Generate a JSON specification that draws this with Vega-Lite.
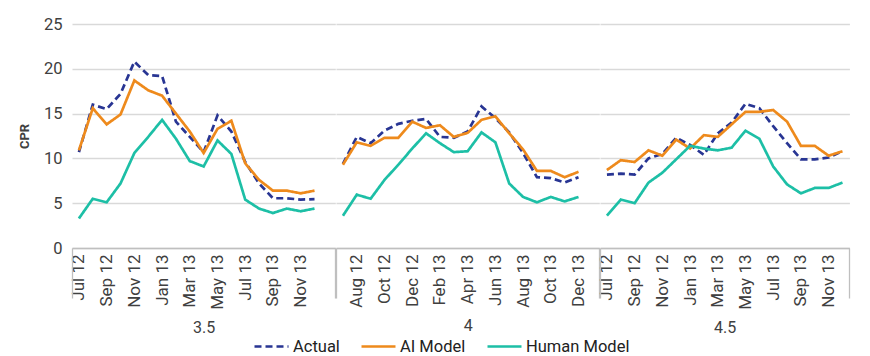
{
  "$schema": "https://vega.github.io/schema/vega-lite/v6.json",
  "padding": {"left": 18, "top": 16, "right": 10, "bottom": 0},
  "bounds": "flush",
  "spacing": 0,
  "config": {
    "font": "Roboto",
    "view": {"stroke": null},
    "axis": {"labelFont": "Roboto", "titleFont": "Roboto", "labelColor": "#404040", "titleColor": "#404040"},
    "legend": {"labelFont": "Roboto"}
  },
  "datasets": {
    "cpr": [
      {"rate":"3.5","series":"Actual","idx":0,"month":"Jul 12","cpr":10.7},
      {"rate":"3.5","series":"Actual","idx":1,"month":"Aug 12","cpr":16.0},
      {"rate":"3.5","series":"Actual","idx":2,"month":"Sep 12","cpr":15.5},
      {"rate":"3.5","series":"Actual","idx":3,"month":"Oct 12","cpr":17.2},
      {"rate":"3.5","series":"Actual","idx":4,"month":"Nov 12","cpr":20.8},
      {"rate":"3.5","series":"Actual","idx":5,"month":"Dec 12","cpr":19.3},
      {"rate":"3.5","series":"Actual","idx":6,"month":"Jan 13","cpr":19.2},
      {"rate":"3.5","series":"Actual","idx":7,"month":"Feb 13","cpr":14.1},
      {"rate":"3.5","series":"Actual","idx":8,"month":"Mar 13","cpr":12.4},
      {"rate":"3.5","series":"Actual","idx":9,"month":"Apr 13","cpr":10.7},
      {"rate":"3.5","series":"Actual","idx":10,"month":"May 13","cpr":14.8},
      {"rate":"3.5","series":"Actual","idx":11,"month":"Jun 13","cpr":13.0},
      {"rate":"3.5","series":"Actual","idx":12,"month":"Jul 13","cpr":9.6},
      {"rate":"3.5","series":"Actual","idx":13,"month":"Aug 13","cpr":7.2},
      {"rate":"3.5","series":"Actual","idx":14,"month":"Sep 13","cpr":5.55},
      {"rate":"3.5","series":"Actual","idx":15,"month":"Oct 13","cpr":5.55},
      {"rate":"3.5","series":"Actual","idx":16,"month":"Nov 13","cpr":5.4},
      {"rate":"3.5","series":"Actual","idx":17,"month":"Dec 13","cpr":5.45},
      {"rate":"3.5","series":"AI Model","idx":0,"month":"Jul 12","cpr":10.9},
      {"rate":"3.5","series":"AI Model","idx":1,"month":"Aug 12","cpr":15.6},
      {"rate":"3.5","series":"AI Model","idx":2,"month":"Sep 12","cpr":13.8},
      {"rate":"3.5","series":"AI Model","idx":3,"month":"Oct 12","cpr":14.9},
      {"rate":"3.5","series":"AI Model","idx":4,"month":"Nov 12","cpr":18.7},
      {"rate":"3.5","series":"AI Model","idx":5,"month":"Dec 12","cpr":17.6},
      {"rate":"3.5","series":"AI Model","idx":6,"month":"Jan 13","cpr":17.0},
      {"rate":"3.5","series":"AI Model","idx":7,"month":"Feb 13","cpr":15.0},
      {"rate":"3.5","series":"AI Model","idx":8,"month":"Mar 13","cpr":13.0},
      {"rate":"3.5","series":"AI Model","idx":9,"month":"Apr 13","cpr":10.6},
      {"rate":"3.5","series":"AI Model","idx":10,"month":"May 13","cpr":13.3},
      {"rate":"3.5","series":"AI Model","idx":11,"month":"Jun 13","cpr":14.2},
      {"rate":"3.5","series":"AI Model","idx":12,"month":"Jul 13","cpr":9.45},
      {"rate":"3.5","series":"AI Model","idx":13,"month":"Aug 13","cpr":7.6},
      {"rate":"3.5","series":"AI Model","idx":14,"month":"Sep 13","cpr":6.4},
      {"rate":"3.5","series":"AI Model","idx":15,"month":"Oct 13","cpr":6.4},
      {"rate":"3.5","series":"AI Model","idx":16,"month":"Nov 13","cpr":6.1},
      {"rate":"3.5","series":"AI Model","idx":17,"month":"Dec 13","cpr":6.4},
      {"rate":"3.5","series":"Human Model","idx":0,"month":"Jul 12","cpr":3.3},
      {"rate":"3.5","series":"Human Model","idx":1,"month":"Aug 12","cpr":5.5},
      {"rate":"3.5","series":"Human Model","idx":2,"month":"Sep 12","cpr":5.1},
      {"rate":"3.5","series":"Human Model","idx":3,"month":"Oct 12","cpr":7.2},
      {"rate":"3.5","series":"Human Model","idx":4,"month":"Nov 12","cpr":10.6},
      {"rate":"3.5","series":"Human Model","idx":5,"month":"Dec 12","cpr":12.4},
      {"rate":"3.5","series":"Human Model","idx":6,"month":"Jan 13","cpr":14.3},
      {"rate":"3.5","series":"Human Model","idx":7,"month":"Feb 13","cpr":12.2},
      {"rate":"3.5","series":"Human Model","idx":8,"month":"Mar 13","cpr":9.7},
      {"rate":"3.5","series":"Human Model","idx":9,"month":"Apr 13","cpr":9.1},
      {"rate":"3.5","series":"Human Model","idx":10,"month":"May 13","cpr":12.0},
      {"rate":"3.5","series":"Human Model","idx":11,"month":"Jun 13","cpr":10.5},
      {"rate":"3.5","series":"Human Model","idx":12,"month":"Jul 13","cpr":5.4},
      {"rate":"3.5","series":"Human Model","idx":13,"month":"Aug 13","cpr":4.4},
      {"rate":"3.5","series":"Human Model","idx":14,"month":"Sep 13","cpr":3.9},
      {"rate":"3.5","series":"Human Model","idx":15,"month":"Oct 13","cpr":4.4},
      {"rate":"3.5","series":"Human Model","idx":16,"month":"Nov 13","cpr":4.1},
      {"rate":"3.5","series":"Human Model","idx":17,"month":"Dec 13","cpr":4.4},

      {"rate":"4","series":"Actual","idx":0,"month":"Jul 12","cpr":9.4},
      {"rate":"4","series":"Actual","idx":1,"month":"Aug 12","cpr":12.4},
      {"rate":"4","series":"Actual","idx":2,"month":"Sep 12","cpr":11.7},
      {"rate":"4","series":"Actual","idx":3,"month":"Oct 12","cpr":13.1},
      {"rate":"4","series":"Actual","idx":4,"month":"Nov 12","cpr":13.85},
      {"rate":"4","series":"Actual","idx":5,"month":"Dec 12","cpr":14.2},
      {"rate":"4","series":"Actual","idx":6,"month":"Jan 13","cpr":14.4},
      {"rate":"4","series":"Actual","idx":7,"month":"Feb 13","cpr":12.4},
      {"rate":"4","series":"Actual","idx":8,"month":"Mar 13","cpr":12.3},
      {"rate":"4","series":"Actual","idx":9,"month":"Apr 13","cpr":13.0},
      {"rate":"4","series":"Actual","idx":10,"month":"May 13","cpr":15.8},
      {"rate":"4","series":"Actual","idx":11,"month":"Jun 13","cpr":14.5},
      {"rate":"4","series":"Actual","idx":12,"month":"Jul 13","cpr":12.9},
      {"rate":"4","series":"Actual","idx":13,"month":"Aug 13","cpr":10.6},
      {"rate":"4","series":"Actual","idx":14,"month":"Sep 13","cpr":7.9},
      {"rate":"4","series":"Actual","idx":15,"month":"Oct 13","cpr":7.8},
      {"rate":"4","series":"Actual","idx":16,"month":"Nov 13","cpr":7.3},
      {"rate":"4","series":"Actual","idx":17,"month":"Dec 13","cpr":7.9},
      {"rate":"4","series":"AI Model","idx":0,"month":"Jul 12","cpr":9.3},
      {"rate":"4","series":"AI Model","idx":1,"month":"Aug 12","cpr":11.8},
      {"rate":"4","series":"AI Model","idx":2,"month":"Sep 12","cpr":11.4},
      {"rate":"4","series":"AI Model","idx":3,"month":"Oct 12","cpr":12.3},
      {"rate":"4","series":"AI Model","idx":4,"month":"Nov 12","cpr":12.3},
      {"rate":"4","series":"AI Model","idx":5,"month":"Dec 12","cpr":14.1},
      {"rate":"4","series":"AI Model","idx":6,"month":"Jan 13","cpr":13.4},
      {"rate":"4","series":"AI Model","idx":7,"month":"Feb 13","cpr":13.7},
      {"rate":"4","series":"AI Model","idx":8,"month":"Mar 13","cpr":12.4},
      {"rate":"4","series":"AI Model","idx":9,"month":"Apr 13","cpr":12.85},
      {"rate":"4","series":"AI Model","idx":10,"month":"May 13","cpr":14.3},
      {"rate":"4","series":"AI Model","idx":11,"month":"Jun 13","cpr":14.7},
      {"rate":"4","series":"AI Model","idx":12,"month":"Jul 13","cpr":12.8},
      {"rate":"4","series":"AI Model","idx":13,"month":"Aug 13","cpr":11.0},
      {"rate":"4","series":"AI Model","idx":14,"month":"Sep 13","cpr":8.6},
      {"rate":"4","series":"AI Model","idx":15,"month":"Oct 13","cpr":8.6},
      {"rate":"4","series":"AI Model","idx":16,"month":"Nov 13","cpr":7.9},
      {"rate":"4","series":"AI Model","idx":17,"month":"Dec 13","cpr":8.5},
      {"rate":"4","series":"Human Model","idx":0,"month":"Jul 12","cpr":3.6},
      {"rate":"4","series":"Human Model","idx":1,"month":"Aug 12","cpr":5.95},
      {"rate":"4","series":"Human Model","idx":2,"month":"Sep 12","cpr":5.5},
      {"rate":"4","series":"Human Model","idx":3,"month":"Oct 12","cpr":7.6},
      {"rate":"4","series":"Human Model","idx":4,"month":"Nov 12","cpr":9.3},
      {"rate":"4","series":"Human Model","idx":5,"month":"Dec 12","cpr":11.1},
      {"rate":"4","series":"Human Model","idx":6,"month":"Jan 13","cpr":12.8},
      {"rate":"4","series":"Human Model","idx":7,"month":"Feb 13","cpr":11.7},
      {"rate":"4","series":"Human Model","idx":8,"month":"Mar 13","cpr":10.7},
      {"rate":"4","series":"Human Model","idx":9,"month":"Apr 13","cpr":10.8},
      {"rate":"4","series":"Human Model","idx":10,"month":"May 13","cpr":12.9},
      {"rate":"4","series":"Human Model","idx":11,"month":"Jun 13","cpr":11.8},
      {"rate":"4","series":"Human Model","idx":12,"month":"Jul 13","cpr":7.2},
      {"rate":"4","series":"Human Model","idx":13,"month":"Aug 13","cpr":5.7},
      {"rate":"4","series":"Human Model","idx":14,"month":"Sep 13","cpr":5.1},
      {"rate":"4","series":"Human Model","idx":15,"month":"Oct 13","cpr":5.7},
      {"rate":"4","series":"Human Model","idx":16,"month":"Nov 13","cpr":5.2},
      {"rate":"4","series":"Human Model","idx":17,"month":"Dec 13","cpr":5.7},

      {"rate":"4.5","series":"Actual","idx":0,"month":"Jul 12","cpr":8.2},
      {"rate":"4.5","series":"Actual","idx":1,"month":"Aug 12","cpr":8.3},
      {"rate":"4.5","series":"Actual","idx":2,"month":"Sep 12","cpr":8.2},
      {"rate":"4.5","series":"Actual","idx":3,"month":"Oct 12","cpr":10.0},
      {"rate":"4.5","series":"Actual","idx":4,"month":"Nov 12","cpr":10.5},
      {"rate":"4.5","series":"Actual","idx":5,"month":"Dec 12","cpr":12.3},
      {"rate":"4.5","series":"Actual","idx":6,"month":"Jan 13","cpr":11.5},
      {"rate":"4.5","series":"Actual","idx":7,"month":"Feb 13","cpr":10.4},
      {"rate":"4.5","series":"Actual","idx":8,"month":"Mar 13","cpr":12.8},
      {"rate":"4.5","series":"Actual","idx":9,"month":"Apr 13","cpr":14.0},
      {"rate":"4.5","series":"Actual","idx":10,"month":"May 13","cpr":16.1},
      {"rate":"4.5","series":"Actual","idx":11,"month":"Jun 13","cpr":15.6},
      {"rate":"4.5","series":"Actual","idx":12,"month":"Jul 13","cpr":13.6},
      {"rate":"4.5","series":"Actual","idx":13,"month":"Aug 13","cpr":11.7},
      {"rate":"4.5","series":"Actual","idx":14,"month":"Sep 13","cpr":9.9},
      {"rate":"4.5","series":"Actual","idx":15,"month":"Oct 13","cpr":9.9},
      {"rate":"4.5","series":"Actual","idx":16,"month":"Nov 13","cpr":10.1},
      {"rate":"4.5","series":"Actual","idx":17,"month":"Dec 13","cpr":10.8},
      {"rate":"4.5","series":"AI Model","idx":0,"month":"Jul 12","cpr":8.7},
      {"rate":"4.5","series":"AI Model","idx":1,"month":"Aug 12","cpr":9.8},
      {"rate":"4.5","series":"AI Model","idx":2,"month":"Sep 12","cpr":9.6},
      {"rate":"4.5","series":"AI Model","idx":3,"month":"Oct 12","cpr":10.9},
      {"rate":"4.5","series":"AI Model","idx":4,"month":"Nov 12","cpr":10.3},
      {"rate":"4.5","series":"AI Model","idx":5,"month":"Dec 12","cpr":12.1},
      {"rate":"4.5","series":"AI Model","idx":6,"month":"Jan 13","cpr":11.1},
      {"rate":"4.5","series":"AI Model","idx":7,"month":"Feb 13","cpr":12.6},
      {"rate":"4.5","series":"AI Model","idx":8,"month":"Mar 13","cpr":12.4},
      {"rate":"4.5","series":"AI Model","idx":9,"month":"Apr 13","cpr":13.8},
      {"rate":"4.5","series":"AI Model","idx":10,"month":"May 13","cpr":15.2},
      {"rate":"4.5","series":"AI Model","idx":11,"month":"Jun 13","cpr":15.2},
      {"rate":"4.5","series":"AI Model","idx":12,"month":"Jul 13","cpr":15.4},
      {"rate":"4.5","series":"AI Model","idx":13,"month":"Aug 13","cpr":14.1},
      {"rate":"4.5","series":"AI Model","idx":14,"month":"Sep 13","cpr":11.4},
      {"rate":"4.5","series":"AI Model","idx":15,"month":"Oct 13","cpr":11.4},
      {"rate":"4.5","series":"AI Model","idx":16,"month":"Nov 13","cpr":10.3},
      {"rate":"4.5","series":"AI Model","idx":17,"month":"Dec 13","cpr":10.8},
      {"rate":"4.5","series":"Human Model","idx":0,"month":"Jul 12","cpr":3.6},
      {"rate":"4.5","series":"Human Model","idx":1,"month":"Aug 12","cpr":5.4},
      {"rate":"4.5","series":"Human Model","idx":2,"month":"Sep 12","cpr":5.0},
      {"rate":"4.5","series":"Human Model","idx":3,"month":"Oct 12","cpr":7.3},
      {"rate":"4.5","series":"Human Model","idx":4,"month":"Nov 12","cpr":8.4},
      {"rate":"4.5","series":"Human Model","idx":5,"month":"Dec 12","cpr":9.9},
      {"rate":"4.5","series":"Human Model","idx":6,"month":"Jan 13","cpr":11.4},
      {"rate":"4.5","series":"Human Model","idx":7,"month":"Feb 13","cpr":11.1},
      {"rate":"4.5","series":"Human Model","idx":8,"month":"Mar 13","cpr":10.9},
      {"rate":"4.5","series":"Human Model","idx":9,"month":"Apr 13","cpr":11.2},
      {"rate":"4.5","series":"Human Model","idx":10,"month":"May 13","cpr":13.1},
      {"rate":"4.5","series":"Human Model","idx":11,"month":"Jun 13","cpr":12.2},
      {"rate":"4.5","series":"Human Model","idx":12,"month":"Jul 13","cpr":9.1},
      {"rate":"4.5","series":"Human Model","idx":13,"month":"Aug 13","cpr":7.1},
      {"rate":"4.5","series":"Human Model","idx":14,"month":"Sep 13","cpr":6.1},
      {"rate":"4.5","series":"Human Model","idx":15,"month":"Oct 13","cpr":6.7},
      {"rate":"4.5","series":"Human Model","idx":16,"month":"Nov 13","cpr":6.7},
      {"rate":"4.5","series":"Human Model","idx":17,"month":"Dec 13","cpr":7.3}
    ]
  },
  "data": {"name": "cpr"},
  "resolve": {"scale": {"color": "shared", "strokeDash": "shared"}, "legend": {"color": "shared", "strokeDash": "shared"}},
  "hconcat": [
    {
      "width": 263.3, "height": 224,
      "transform": [{"filter": "datum.rate === '3.5'"}],
      "resolve": {"axis": {"x": "independent"}},
      "layer": [
        {
          "mark": {"type": "line", "strokeWidth": 2.7},
          "encoding": {
            "x": {"field": "idx", "type": "quantitative",
              "scale": {"domain": [-0.5, 18.5], "nice": false, "zero": false},
              "axis": {"orient": "bottom", "values": [0,2,4,6,8,10,12,14,16],
                "labelExpr": "['Jul 12','Aug 12','Sep 12','Oct 12','Nov 12','Dec 12','Jan 13','Feb 13','Mar 13','Apr 13','May 13','Jun 13','Jul 13','Aug 13','Sep 13','Oct 13','Nov 13','Dec 13'][datum.value]",
                "labelAngle": -90, "labelFontSize": 17, "labelPadding": 6, "ticks": false, "grid": false,
                "domainColor": "#bfbfbf", "domainWidth": 1.3, "title": "3.5", "titleFontSize": 16, "titleFontWeight": "normal", "titlePadding": 10}},
            "y": {"field": "cpr", "type": "quantitative",
              "scale": {"domain": [0, 25], "nice": false},
              "axis": {"values": [0,5,10,15,20,25], "title": "CPR", "titleFontWeight": "bold", "titleFontSize": 13,
                "labelFontSize": 16.5, "ticks": false, "domain": false, "gridColor": "#d9d9d9", "gridWidth": 1.3,
                "labelPadding": 10, "titlePadding": 12}},
            "color": {"field": "series", "type": "nominal",
              "scale": {"domain": ["Actual", "AI Model", "Human Model"], "range": ["#283593", "#EE8A1C", "#1DBFA6"]},
              "legend": {"orient": "none", "legendX": 181, "legendY": 304, "direction": "horizontal", "title": null,
                "symbolType": "stroke", "symbolSize": 1156, "symbolStrokeWidth": 2.7, "labelFontSize": 16.5,
                "labelOffset": 3, "columnPadding": 16, "labelColor": "#222222"}},
            "strokeDash": {"field": "series", "type": "nominal",
              "scale": {"domain": ["Actual", "AI Model", "Human Model"], "range": [[7, 4], [1, 0], [1, 0]]},
              "legend": {"orient": "none", "legendX": 181, "legendY": 304, "direction": "horizontal", "title": null,
                "symbolType": "stroke", "symbolSize": 1156, "symbolStrokeWidth": 2.7, "labelFontSize": 16.5,
                "labelOffset": 3, "columnPadding": 16, "labelColor": "#222222"}}
          }
        },
        {
          "mark": {"type": "rule", "opacity": 0},
          "encoding": {
            "x": {"field": "idx", "type": "quantitative",
              "axis": {"orient": "bottom", "values": [-0.5, 18.5], "labels": false, "domain": false, "grid": false,
                "ticks": true, "tickSize": 50, "tickColor": "#bfbfbf", "tickWidth": 1.3, "title": null}}
          }
        }
      ]
    },
    {
      "width": 263.3, "height": 224,
      "transform": [{"filter": "datum.rate === '4'"}],
      "resolve": {"axis": {"x": "independent"}},
      "layer": [
        {
          "mark": {"type": "line", "strokeWidth": 2.7},
          "encoding": {
            "x": {"field": "idx", "type": "quantitative",
              "scale": {"domain": [-0.5, 18.5], "nice": false, "zero": false},
              "axis": {"orient": "bottom", "values": [1,3,5,7,9,11,13,15,17],
                "labelExpr": "['Jul 12','Aug 12','Sep 12','Oct 12','Nov 12','Dec 12','Jan 13','Feb 13','Mar 13','Apr 13','May 13','Jun 13','Jul 13','Aug 13','Sep 13','Oct 13','Nov 13','Dec 13'][datum.value]",
                "labelAngle": -90, "labelFontSize": 17, "labelPadding": 6, "ticks": false, "grid": false,
                "domainColor": "#bfbfbf", "domainWidth": 1.3, "title": "4", "titleFontSize": 16, "titleFontWeight": "normal", "titlePadding": 10}},
            "y": {"field": "cpr", "type": "quantitative",
              "scale": {"domain": [0, 25], "nice": false},
              "axis": {"values": [0,5,10,15,20,25], "title": null, "labels": false, "ticks": false, "domain": false,
                "gridColor": "#d9d9d9", "gridWidth": 1.3}},
            "color": {"field": "series", "type": "nominal",
              "scale": {"domain": ["Actual", "AI Model", "Human Model"], "range": ["#283593", "#EE8A1C", "#1DBFA6"]}},
            "strokeDash": {"field": "series", "type": "nominal",
              "scale": {"domain": ["Actual", "AI Model", "Human Model"], "range": [[7, 4], [1, 0], [1, 0]]}}
          }
        },
        {
          "mark": {"type": "rule", "opacity": 0},
          "encoding": {
            "x": {"field": "idx", "type": "quantitative",
              "axis": {"orient": "bottom", "values": [-0.5, 18.5], "labels": false, "domain": false, "grid": false,
                "ticks": true, "tickSize": 50, "tickColor": "#bfbfbf", "tickWidth": 1.3, "title": null}}
          }
        }
      ]
    },
    {
      "width": 249.4, "height": 224,
      "transform": [{"filter": "datum.rate === '4.5'"}],
      "resolve": {"axis": {"x": "independent"}},
      "layer": [
        {
          "mark": {"type": "line", "strokeWidth": 2.7},
          "encoding": {
            "x": {"field": "idx", "type": "quantitative",
              "scale": {"domain": [-0.5, 17.5], "nice": false, "zero": false},
              "axis": {"orient": "bottom", "values": [0,2,4,6,8,10,12,14,16],
                "labelExpr": "['Jul 12','Aug 12','Sep 12','Oct 12','Nov 12','Dec 12','Jan 13','Feb 13','Mar 13','Apr 13','May 13','Jun 13','Jul 13','Aug 13','Sep 13','Oct 13','Nov 13','Dec 13'][datum.value]",
                "labelAngle": -90, "labelFontSize": 17, "labelPadding": 6, "ticks": false, "grid": false,
                "domainColor": "#bfbfbf", "domainWidth": 1.3, "title": "4.5", "titleFontSize": 16, "titleFontWeight": "normal", "titlePadding": 10}},
            "y": {"field": "cpr", "type": "quantitative",
              "scale": {"domain": [0, 25], "nice": false},
              "axis": {"values": [0,5,10,15,20,25], "title": null, "labels": false, "ticks": false, "domain": false,
                "gridColor": "#d9d9d9", "gridWidth": 1.3}},
            "color": {"field": "series", "type": "nominal",
              "scale": {"domain": ["Actual", "AI Model", "Human Model"], "range": ["#283593", "#EE8A1C", "#1DBFA6"]}},
            "strokeDash": {"field": "series", "type": "nominal",
              "scale": {"domain": ["Actual", "AI Model", "Human Model"], "range": [[7, 4], [1, 0], [1, 0]]}}
          }
        },
        {
          "mark": {"type": "rule", "opacity": 0},
          "encoding": {
            "x": {"field": "idx", "type": "quantitative",
              "axis": {"orient": "bottom", "values": [-0.5, 17.5], "labels": false, "domain": false, "grid": false,
                "ticks": true, "tickSize": 50, "tickColor": "#bfbfbf", "tickWidth": 1.3, "title": null}}
          }
        }
      ]
    }
  ]
}
